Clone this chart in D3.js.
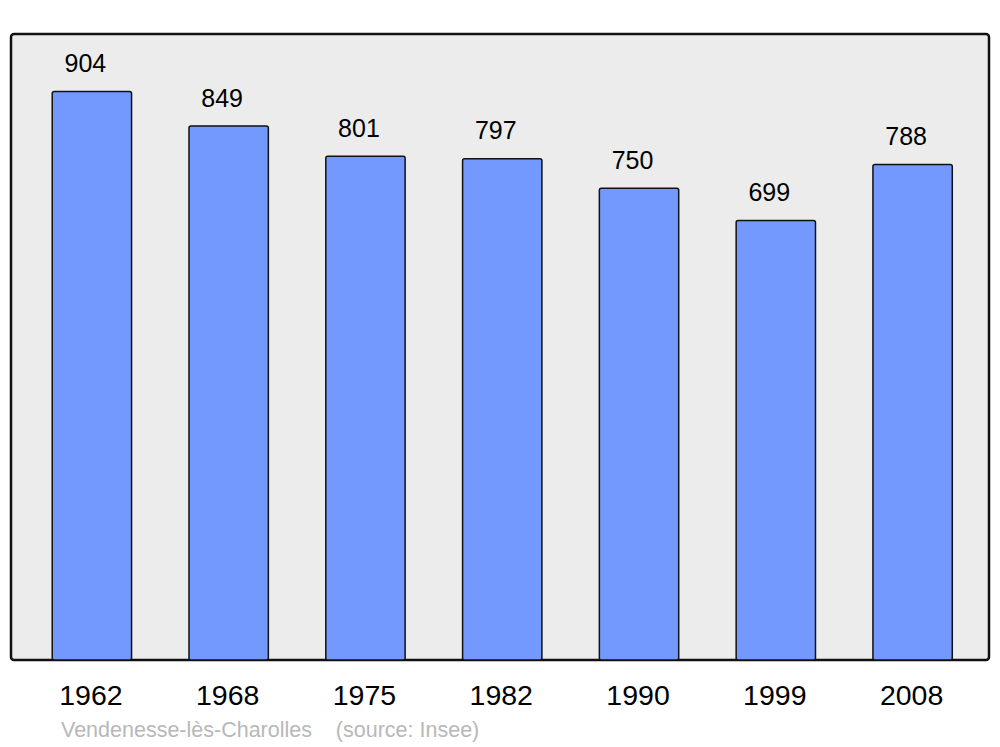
<!DOCTYPE html>
<html>
<head>
<meta charset="utf-8">
<script src="https://cdn.jsdelivr.net/npm/d3@7"></script>
<style>
  body { margin: 0; background: #fff; }
  text { font-family: "Liberation Sans", Arial, sans-serif; }
</style>
</head>
<body>
<script>
var years = ["1962", "1968", "1975", "1982", "1990", "1999", "2008"];
var population = [904, 849, 801, 797, 750, 699, 788];
var caption = "Vendenesse-lès-Charolles    (source: Insee)";

var width = 1000, height = 747;
var panel = {left: 11, top: 34, right: 989, bottom: 660};

var svg = d3.select("body").append("svg")
    .attr("width", width)
    .attr("height", height);

svg.append("rect")
    .attr("x", panel.left)
    .attr("y", panel.top)
    .attr("width", panel.right - panel.left)
    .attr("height", panel.bottom - panel.top)
    .attr("rx", 3)
    .style("fill", "#ececec")
    .style("stroke", "#111")
    .style("stroke-width", 2.5);

var x = d3.scaleBand()
    .domain(years)
    .range([23.5, 981])
    .paddingInner(0.42)
    .paddingOuter(0.21);

var y = d3.scaleLinear()
    .domain([0, d3.max(population) * 1.1])
    .range([panel.bottom, panel.top]);

var g = svg.selectAll(".bar")
    .data(years.map(function(d, i) { return {year: d, value: population[i]}; }))
  .enter().append("g")
    .attr("class", "bar");

g.append("rect")
    .attr("x", function(d) { return x(d.year); })
    .attr("y", function(d) { return y(d.value) + 0.5; })
    .attr("width", x.bandwidth())
    .attr("height", function(d) { return panel.bottom - y(d.value) - 0.5; })
    .attr("rx", 2)
    .style("fill", "#7399ff")
    .style("stroke", "#111")
    .style("stroke-width", 1.5);

// value labels sit a little left of the bar centre
g.append("text")
    .attr("x", function(d) { return x(d.year) + x.bandwidth() / 2 - 6.5; })
    .attr("y", function(d) { return y(d.value) - 19; })
    .attr("text-anchor", "middle")
    .style("font-size", "25px")
    .text(function(d) { return d.value; });

g.append("text")
    .attr("x", function(d) { return x(d.year) + x.bandwidth() / 2 - 1; })
    .attr("y", 705)
    .attr("text-anchor", "middle")
    .style("font-size", "28.5px")
    .text(function(d) { return d.year; });

svg.append("text")
    .attr("x", 61)
    .attr("y", 737)
    .style("font-size", "21.5px")
    .style("fill", "#b8b8b8")
    .style("white-space", "pre")
    .attr("xml:space", "preserve")
    .text(caption);
</script>
</body>
</html>
